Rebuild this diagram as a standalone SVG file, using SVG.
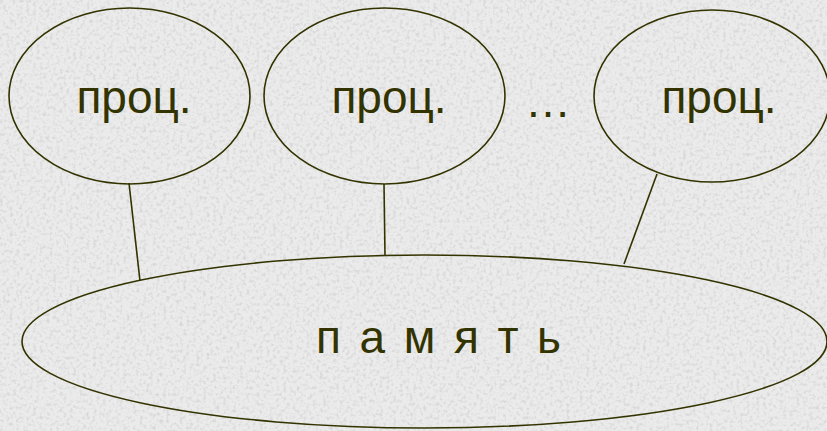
<svg xmlns="http://www.w3.org/2000/svg" width="827" height="431" viewBox="0 0 827 431">
<defs>
<filter id="grain" x="0" y="0" width="100%" height="100%">
<feTurbulence type="fractalNoise" baseFrequency="0.3" numOctaves="3" seed="4" result="n"/>
<feColorMatrix type="matrix" values="0 0 0 0 0.6  0 0 0 0 0.6  0 0 0 0 0.6  0 0 0 -3 1.6"/>
</filter>
<style>
.node{fill:none;stroke:#333300;stroke-width:1.6}
.lbl{font-family:"Liberation Sans",Arial,sans-serif;font-size:46px;fill:#333300;text-anchor:middle}
.edge{stroke:#333300;stroke-width:1.6;fill:none}
</style>
</defs>
<rect width="827" height="431" fill="#ebebeb"/>
<rect width="827" height="431" filter="url(#grain)" opacity="0.6"/>
<g id="edges">
<line class="edge" x1="129" y1="183" x2="140" y2="281"/>
<line class="edge" x1="384" y1="184" x2="385" y2="256"/>
<line class="edge" x1="657" y1="174" x2="624" y2="264"/>
</g>
<g id="proc1">
<ellipse class="node" cx="129.5" cy="96" rx="120.5" ry="88"/>
<text class="lbl" x="134" y="113">проц.</text>
</g>
<g id="proc2">
<ellipse class="node" cx="384.5" cy="96" rx="120.5" ry="88"/>
<text class="lbl" x="389" y="113">проц.</text>
</g>
<text class="lbl" x="548" y="117">…</text>
<g id="proc3">
<ellipse class="node" cx="712" cy="96" rx="118" ry="86"/>
<text class="lbl" x="719" y="113">проц.</text>
</g>
<g id="memory">
<ellipse class="node" cx="424.5" cy="341.5" rx="402.5" ry="86.5"/>
<text class="lbl" x="440" y="353" font-size="48" letter-spacing="2.9">п а м я т ь</text>
</g>
</svg>
